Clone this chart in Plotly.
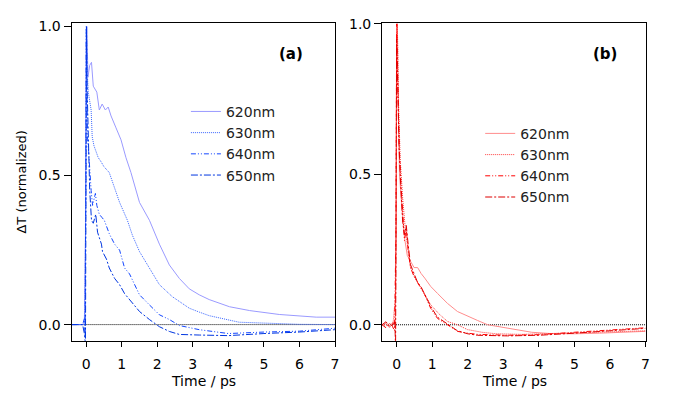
import plotly.graph_objects as go

# ---------------- data ----------------
labels = ["620nm", "630nm", "640nm", "650nm"]

# panel (a)
t_a620 = [-0.41, -0.1, -0.05, -0.02, 0.0, 0.02, 0.05, 0.1, 0.15, 0.2, 0.3, 0.37, 0.45, 0.54, 0.62, 0.7, 0.84, 0.98, 1.12, 1.26, 1.5, 1.78, 2.06, 2.34, 2.62, 2.9, 3.18, 3.46, 4.03, 4.6, 5.43, 6.47, 7.0]
v_a620 = [0, 0, 0.01, 0.3, 0.95, 1.0, 0.83, 0.87, 0.88, 0.8, 0.78, 0.72, 0.74, 0.72, 0.73, 0.70, 0.66, 0.62, 0.56, 0.51, 0.41, 0.35, 0.27, 0.20, 0.155, 0.12, 0.10, 0.084, 0.06, 0.047, 0.034, 0.025, 0.025]

t_a630 = [-0.41, -0.1, -0.04, -0.01, 0.01, 0.03, 0.06, 0.1, 0.14, 0.17, 0.22, 0.28, 0.34, 0.4, 0.5, 0.65, 0.8, 0.94, 1.16, 1.3, 1.5, 1.78, 2.06, 2.42, 2.9, 3.18, 3.46, 4.3, 5.2, 6.0, 7.0]
v_a630 = [0, 0, 0.0, 0.4, 1.0, 0.85, 0.78, 0.75, 0.72, 0.63, 0.6, 0.58, 0.56, 0.55, 0.53, 0.51, 0.46, 0.41, 0.35, 0.30, 0.245, 0.19, 0.134, 0.094, 0.055, 0.042, 0.03, 0.008, 0.003, 0.001, 0.0]

t_a640 = [-0.41, -0.1, -0.05, -0.03, -0.01, 0.0, 0.02, 0.04, 0.07, 0.1, 0.14, 0.18, 0.22, 0.26, 0.3, 0.37, 0.44, 0.51, 0.65, 0.8, 0.94, 1.08, 1.22, 1.5, 1.78, 2.06, 2.34, 2.62, 3.18, 4.0, 5.0, 6.0, 7.0]
v_a640 = [0, 0, 0.02, -0.04, 0.5, 1.0, 0.8, 0.62, 0.58, 0.51, 0.45, 0.40, 0.42, 0.44, 0.40, 0.37, 0.36, 0.35, 0.305, 0.27, 0.25, 0.19, 0.17, 0.10, 0.066, 0.033, 0.017, -0.003, -0.017, -0.03, -0.025, -0.022, -0.012]

t_a650 = [-0.41, -0.1, -0.05, -0.02, 0.0, 0.01, 0.03, 0.06, 0.1, 0.15, 0.2, 0.27, 0.32, 0.43, 0.46, 0.57, 0.65, 0.8, 0.94, 1.08, 1.22, 1.5, 1.78, 2.06, 2.34, 2.62, 3.18, 4.0, 5.0, 6.0, 7.0]
v_a650 = [0, 0, -0.03, -0.07, 0.6, 1.0, 0.78, 0.6, 0.45, 0.35, 0.34, 0.37, 0.31, 0.27, 0.245, 0.22, 0.19, 0.155, 0.134, 0.104, 0.084, 0.044, 0.017, -0.007, -0.023, -0.033, -0.035, -0.037, -0.03, -0.025, -0.017]

# panel (b)
t_b620 = [-0.41, -0.3, -0.2, -0.1, -0.04, -0.01, 0.0, 0.02, 0.05, 0.08, 0.14, 0.22, 0.3, 0.39, 0.49, 0.59, 0.69, 0.79, 0.96, 1.15, 1.43, 1.71, 1.99, 2.28, 2.56, 3.12, 3.8, 4.3, 5.0, 5.7, 6.4, 7.0]
v_b620 = [0.0, 0.005, -0.01, 0.01, -0.01, 0.3, 0.9, 1.0, 0.7, 0.5, 0.40, 0.29, 0.23, 0.21, 0.19, 0.19, 0.17, 0.155, 0.127, 0.104, 0.071, 0.044, 0.028, 0.014, 0.0, -0.012, -0.025, -0.029, -0.03, -0.028, -0.026, -0.022]

t_b630 = [-0.41, -0.2, -0.1, -0.03, 0.0, 0.02, 0.05, 0.1, 0.17, 0.25, 0.32, 0.39, 0.5, 0.65, 0.8, 0.96, 1.2, 1.43, 1.71, 1.99, 2.4, 2.8, 3.5, 4.0, 5.0, 6.0, 7.0]
v_b630 = [0.0, 0.0, 0.005, 0.1, 0.95, 1.0, 0.75, 0.55, 0.42, 0.31, 0.25, 0.19, 0.16, 0.13, 0.10, 0.066, 0.035, 0.011, 0.0, -0.016, -0.025, -0.03, -0.032, -0.03, -0.028, -0.024, -0.02]

t_b640 = [-0.41, -0.3, -0.2, -0.12, -0.06, -0.02, 0.0, 0.03, 0.07, 0.12, 0.17, 0.22, 0.27, 0.33, 0.39, 0.49, 0.59, 0.69, 0.79, 0.96, 1.15, 1.43, 1.71, 2.0, 2.28, 3.12, 4.0, 5.0, 6.0, 7.0]
v_b640 = [0.0, -0.01, 0.005, -0.005, -0.02, 0.3, 1.0, 0.8, 0.6, 0.47, 0.36, 0.28, 0.32, 0.24, 0.19, 0.16, 0.14, 0.12, 0.10, 0.054, 0.021, 0.0, -0.022, -0.028, -0.032, -0.035, -0.033, -0.025, -0.018, -0.01]

t_b650 = [-0.41, -0.3, -0.2, -0.1, -0.05, -0.03, 0.0, 0.03, 0.07, 0.12, 0.17, 0.22, 0.27, 0.33, 0.39, 0.49, 0.59, 0.69, 0.79, 0.96, 1.15, 1.43, 1.71, 2.0, 2.28, 3.12, 4.0, 5.0, 6.0, 7.0]
v_b650 = [0.0, 0.01, -0.005, 0.0, 0.01, -0.08, 0.95, 0.78, 0.58, 0.45, 0.34, 0.3, 0.33, 0.26, 0.2, 0.17, 0.14, 0.125, 0.1, 0.06, 0.025, 0.003, -0.02, -0.03, -0.035, -0.037, -0.035, -0.028, -0.02, -0.012]

x_ticks = [0, 1, 2, 3, 4, 5, 6, 7]
y_ticks = [0.0, 0.5, 1.0]
y_ticktext = ["0.0", "0.5", "1.0"]
zero_x = [-0.41, 7.0]
zero_y = [0, 0]

# ---------------- styles ----------------
colors_a = ["#9a9aff", "#3a66ff", "#1447ff", "#0036e0"]
colors_b = ["#ff8c8c", "#ff3c3c", "#ff0000", "#dd0000"]
dashes = ["solid", "1px,1px", "5px,2px,1px,2px,1px,2px", "7px,2px,2px,2px"]

FONT = "DejaVu Sans"
fig = go.Figure()

series_a = [(t_a620, v_a620), (t_a630, v_a630), (t_a640, v_a640), (t_a650, v_a650)]
series_b = [(t_b620, v_b620), (t_b630, v_b630), (t_b640, v_b640), (t_b650, v_b650)]

for ax in ("x", "x2"):
    fig.add_trace(go.Scatter(x=zero_x, y=zero_y, mode="lines",
                             line=dict(color="black", width=1, dash="1px,1px"),
                             xaxis=ax, yaxis=ax.replace("x", "y"), showlegend=False,
                             hoverinfo="skip"))

for i, (t, v) in enumerate(series_a):
    fig.add_trace(go.Scatter(x=t, y=v, mode="lines", name=labels[i],
                             line=dict(color=colors_a[i], width=1, dash=dashes[i]),
                             xaxis="x", yaxis="y", legend="legend"))
for i, (t, v) in enumerate(series_b):
    fig.add_trace(go.Scatter(x=t, y=v, mode="lines", name=labels[i],
                             line=dict(color=colors_b[i], width=1, dash=dashes[i]),
                             xaxis="x2", yaxis="y2", legend="legend2"))

W, H = 690, 394


def py(p):
    """pixel-from-top -> paper fraction (with small empirical correction)"""
    return 1 - ((p - 5) / 0.984) / H


ydom = [py(339.3), py(20.7)]


def xaxis(dom, anchor):
    return dict(domain=dom, range=[-0.41, 7.0], tickvals=x_ticks, ticks="outside",
                ticklen=5, tickwidth=1, tickcolor="black", showline=True, linecolor="black",
                linewidth=1, mirror=True, showgrid=False, zeroline=False, anchor=anchor,
                ticklabelstandoff=6,
                tickfont=dict(family=FONT, size=14, color="black"))


def yaxis(rng, anchor):
    return dict(domain=ydom, range=rng, tickvals=y_ticks, ticktext=y_ticktext,
                ticks="outside", ticklen=7, tickwidth=1, tickcolor="black", showline=True,
                linecolor="black", linewidth=1, mirror=True, showgrid=False, zeroline=False,
                anchor=anchor, tickfont=dict(family=FONT, size=14, color="black"))


legend_common = dict(bgcolor="rgba(0,0,0,0)", borderwidth=0, xanchor="left", yanchor="top",
                     font=dict(family=FONT, size=14, color="#222"), tracegroupgap=0)


def ann(text, x, y, size, **kw):
    return dict(text=text, x=x / W, y=py(y), xref="paper", yref="paper", showarrow=False,
                xanchor="center", yanchor="middle",
                font=dict(family=FONT, size=size, color="black"), **kw)


fig.update_layout(
    width=W, height=H, margin=dict(l=0, r=0, t=0, b=0),
    paper_bgcolor="white", plot_bgcolor="white",
    xaxis=xaxis([72 / W, 337 / W], "y"),
    yaxis=yaxis([-0.054, 1.013], "x"),
    xaxis2=xaxis([384.3 / W, 649.3 / W], "y2"),
    yaxis2=yaxis([-0.053, 1.004], "x2"),
    legend=legend_common | dict(x=187 / W, y=py(94)),
    legend2=legend_common | dict(x=483 / W, y=py(116)),
    annotations=[
        ann("<b>(a)</b>", 292.5, 52, 15),
        ann("<b>(b)</b>", 609, 52, 15),
        ann("Time / ps", 205, 380, 14),
        ann("Time / ps", 517, 380, 14),
        ann("ΔT (normalized)", 22, 180, 13, textangle=-90),
    ],
)

fig.write_html("out.html", post_script="document.body.style.margin='0px';",
               config={"displayModeBar": False})
